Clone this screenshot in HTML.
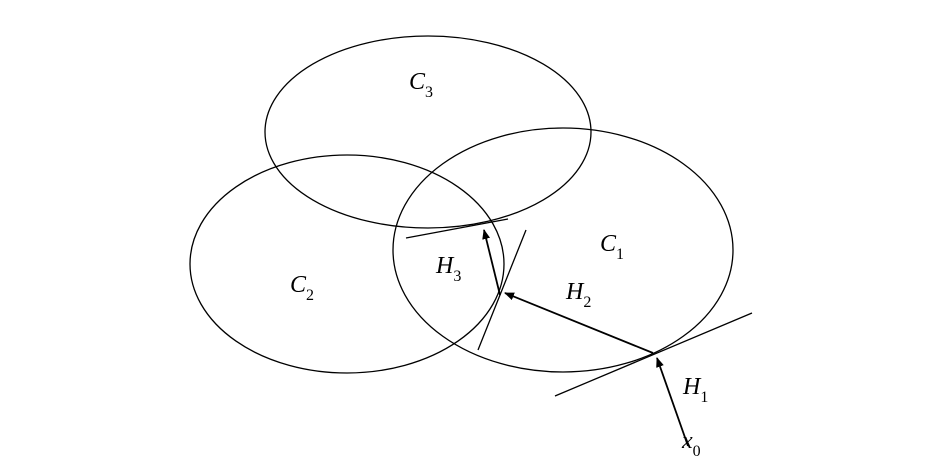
<!DOCTYPE html>
<html><head><meta charset="utf-8"><style>html,body{margin:0;padding:0;background:#fff}svg{display:block}text{font-family:"Liberation Serif",serif;font-style:italic;font-size:24px;fill:#000}.s{font-size:16px;font-style:normal}</style></head>
<body>
<svg width="945" height="472" viewBox="0 0 945 472" xmlns="http://www.w3.org/2000/svg">
<defs><marker id="a" markerWidth="10" markerHeight="8" refX="9" refY="4" orient="auto" markerUnits="userSpaceOnUse"><path d="M0,0 L10,4 L0,8 z" fill="#000"/></marker></defs>
<g fill="none" stroke="#000" stroke-width="1.3">
<ellipse cx="428" cy="132" rx="163" ry="96"/>
<ellipse cx="347" cy="264" rx="157" ry="109"/>
<ellipse cx="563" cy="250" rx="170" ry="122"/>
<line x1="555" y1="396" x2="752" y2="313"/>
<line x1="478" y1="350" x2="526" y2="230"/>
<line x1="406" y1="238" x2="508" y2="219"/>
<line x1="688" y1="446" x2="657" y2="358" stroke-width="1.8" marker-end="url(#a)"/>
<line x1="653" y1="353" x2="505" y2="293" stroke-width="1.8" marker-end="url(#a)"/>
<line x1="500" y1="295" x2="484" y2="230" stroke-width="1.8" marker-end="url(#a)"/>
</g>
<text x="409" y="89">C<tspan class="s" dy="8">3</tspan></text>
<text x="600" y="251">C<tspan class="s" dy="8">1</tspan></text>
<text x="290" y="292">C<tspan class="s" dy="8">2</tspan></text>
<text x="436" y="273">H<tspan class="s" dy="8">3</tspan></text>
<text x="566" y="299">H<tspan class="s" dy="8">2</tspan></text>
<text x="683" y="394">H<tspan class="s" dy="8">1</tspan></text>
<text x="682" y="448">x<tspan class="s" dy="8">0</tspan></text>
</svg>
</body></html>
